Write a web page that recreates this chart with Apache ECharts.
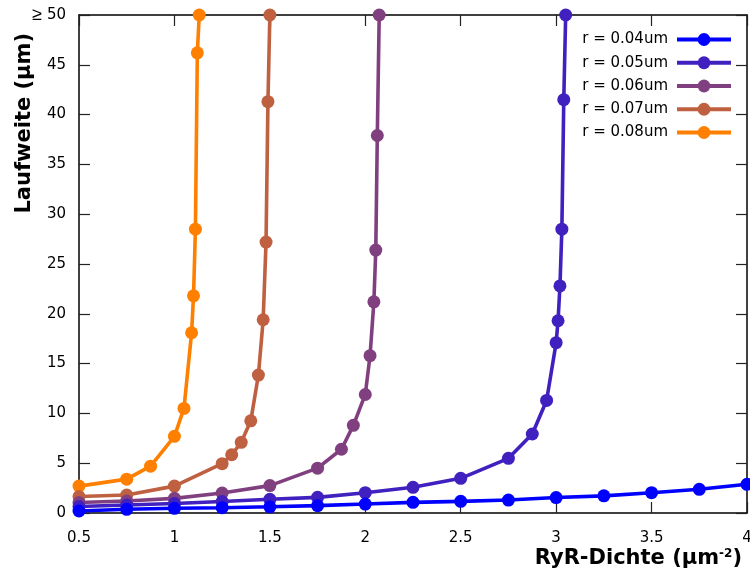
<!DOCTYPE html>
<html>
<head>
<meta charset="utf-8">
<script src="https://cdn.jsdelivr.net/npm/echarts@6/dist/echarts.min.js"></script>
<style>
  html, body { margin: 0; padding: 0; background: #fff; }
  #chart { width: 750px; height: 578px; }
</style>
</head>
<body>
<div id="chart"></div>
<script>
// Laufweite vs. RyR-Dichte for several cluster radii
const seriesNames = ['r = 0.04um', 'r = 0.05um', 'r = 0.06um', 'r = 0.07um', 'r = 0.08um'];
const seriesColors = ['#0000ff', '#4020bf', '#804080', '#bf6040', '#ff8000'];

const x04 = [0.5, 0.75, 1, 1.25, 1.5, 1.75, 2, 2.25, 2.5, 2.75, 3, 3.25, 3.5, 3.75, 4];
const y04 = [0.2, 0.37, 0.47, 0.53, 0.62, 0.74, 0.9, 1.07, 1.17, 1.3, 1.55, 1.72, 2.04, 2.38, 2.88];

const x05 = [0.5, 0.75, 1, 1.25, 1.5, 1.75, 2, 2.25, 2.5, 2.75, 2.875, 2.95, 3.0, 3.01, 3.02, 3.03, 3.04, 3.05];
const y05 = [0.65, 0.8, 0.95, 1.15, 1.38, 1.57, 2.04, 2.58, 3.48, 5.49, 7.93, 11.3, 17.1, 19.3, 22.8, 28.5, 41.5, 50];

const x06 = [0.5, 0.75, 1, 1.25, 1.5, 1.75, 1.875, 1.9375, 2.0, 2.025, 2.045, 2.055, 2.063, 2.073];
const y06 = [1.05, 1.2, 1.47, 2.0, 2.75, 4.5, 6.4, 8.8, 11.9, 15.8, 21.2, 26.4, 37.9, 50];

const x07 = [0.5, 0.75, 1, 1.25, 1.3, 1.35, 1.4, 1.44, 1.465, 1.48, 1.49, 1.5];
const y07 = [1.65, 1.8, 2.7, 4.95, 5.85, 7.1, 9.25, 13.85, 19.4, 27.2, 41.3, 50];

const x08 = [0.5, 0.75, 0.875, 1, 1.05, 1.09, 1.1, 1.11, 1.12, 1.13];
const y08 = [2.7, 3.4, 4.7, 7.7, 10.5, 18.1, 21.8, 28.5, 46.2, 50];

const xs = [x04, x05, x06, x07, x08];
const ys = [y04, y05, y06, y07, y08];

const FONT = 'DejaVu Sans';

const chart = echarts.init(document.getElementById('chart'), null, { renderer: 'canvas' });

const axisCommon = {
  axisLine: { show: true, onZero: false, lineStyle: { color: '#000', width: 1.5 } },
  axisTick: { show: true, inside: true, length: 11, lineStyle: { color: '#222', width: 1.2 } },
  splitLine: { show: false },
  minorTick: { show: false }
};

const series = [];
// draw the largest radius first so the lower curves sit on top
for (let i = xs.length - 1; i >= 0; i--) {
  series.push({
    name: seriesNames[i],
    type: 'line',
    data: xs[i].map((x, k) => [x, ys[i][k]]),
    symbol: 'circle',
    symbolSize: 13,
    showSymbol: true,
    clip: false,
    color: seriesColors[i],
    lineStyle: { width: 3.6, color: seriesColors[i] },
    itemStyle: { color: seriesColors[i] },
    emphasis: { disabled: true },
    animation: false
  });
}

chart.setOption({
  backgroundColor: '#fff',
  animation: false,
  textStyle: { fontFamily: FONT },
  grid: { left: 79, right: 3, top: 15, bottom: 65, outerBoundsMode: 'none', containLabel: false },
  legend: {
    data: seriesNames,
    orient: 'vertical',
    right: 17,
    top: 32,
    padding: 0,
    align: 'right',
    itemWidth: 54,
    itemHeight: 16,
    itemGap: 8.25,
    lineStyle: { width: 4 },
    textStyle: { fontFamily: FONT, fontSize: 15, color: '#000', padding: [0, 4, 0, 0] },
    selectedMode: false
  },
  xAxis: [
    Object.assign({
      type: 'value', min: 0.5, max: 4, interval: 0.5, position: 'bottom',
      axisLabel: {
        fontFamily: FONT, fontSize: 15, color: '#000', margin: 18,
        formatter: v => String(v)
      }
    }, axisCommon),
    Object.assign({
      type: 'value', min: 0.5, max: 4, interval: 0.5, position: 'top',
      axisLabel: { show: false }
    }, axisCommon)
  ],
  yAxis: [
    Object.assign({
      type: 'value', min: 0, max: 50, interval: 5, position: 'left',
      axisLabel: {
        fontFamily: FONT, fontSize: 15, color: '#000', margin: 13,
        formatter: v => v === 50 ? '{ge|≥} 50' : String(v),
        rich: { ge: { fontFamily: 'Liberation Sans', fontSize: 18, color: '#000' } }
      }
    }, axisCommon),
    Object.assign({
      type: 'value', min: 0, max: 50, interval: 5, position: 'right',
      axisLabel: { show: false }
    }, axisCommon)
  ],
  graphic: [
    {
      type: 'text',
      left: 14, top: 33,
      rotation: Math.PI / 2,
      style: {
        text: 'Laufweite (µm)',
        font: 'bold 21px "DejaVu Sans"',
        fill: '#000'
      },
      originX: 0, originY: 0
    },
    {
      type: 'text',
      right: 8, top: 548,
      style: {
        text: 'RyR-Dichte (µm{sup|-2})',
        font: 'bold 21px "DejaVu Sans"',
        fill: '#000',
        rich: { sup: { font: 'bold 12px "DejaVu Sans"', fill: '#000', verticalAlign: 'top', padding: [0, 0, 9, 0] } }
      }
    }
  ],
  series: series
});
</script>
</body>
</html>
